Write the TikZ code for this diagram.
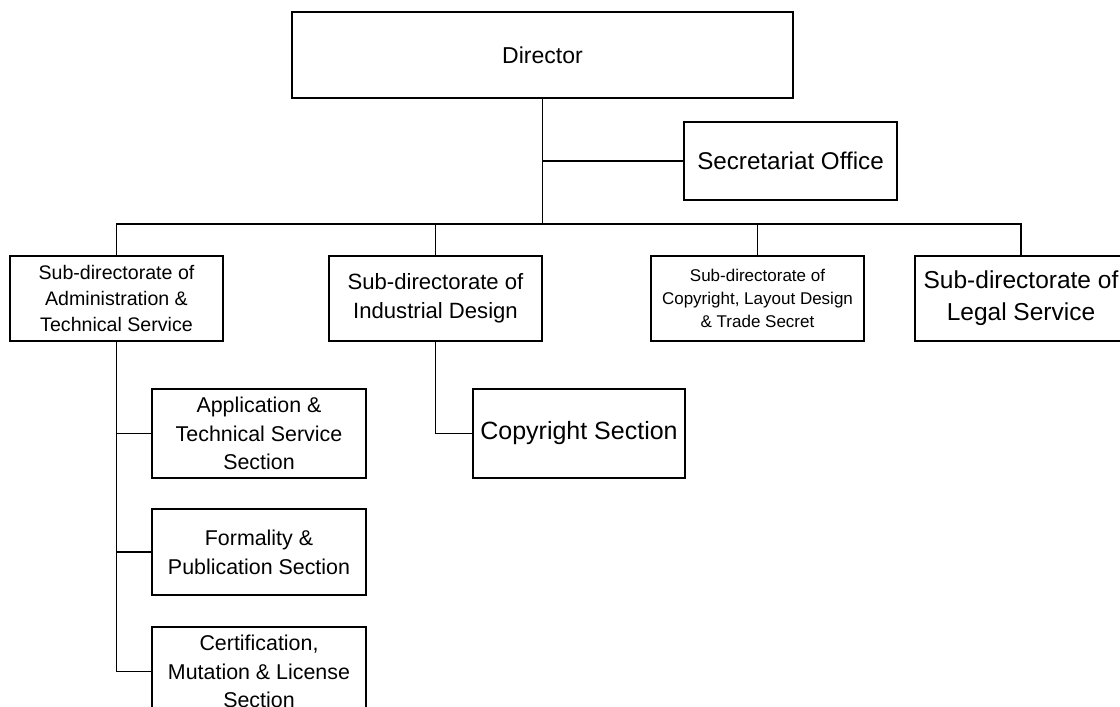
\documentclass[tikz,border=0pt]{standalone}
\usepackage{fontspec}
\setmainfont{Liberation Sans}
\begin{document}
\begin{tikzpicture}[x=1pt,y=-1pt,
  unit/.style={draw=black,line width=2pt,rectangle,inner sep=0pt,align=center,fill=white},
  subdir/.style={unit,minimum width=213pt,minimum height=85pt},
  section/.style={unit,minimum width=214pt,minimum height=89pt,font={\fontsize{21.4}{28.7}\selectfont}},
  link/.style={draw=black,line width=1.7pt}]
\useasboundingbox (0,0) rectangle (1120,707);
\clip (0,0) rectangle (1120,707);
\fill[white] (0,0) rectangle (1120,707);

% top level
\node[unit,minimum width=501pt,minimum height=86pt,font={\fontsize{23}{28}\selectfont}]
  (dir) at (542.5,55) {Director};
\node[unit,minimum width=213pt,minimum height=78pt,font={\fontsize{24.2}{29}\selectfont}]
  (sec) at (790.5,161) {Secretariat Office};

% sub-directorates
\node[subdir,font={\fontsize{19.6}{26}\selectfont}] (adm) at (116.5,298.5)
  {Sub-directorate of\\Administration \&\\Technical Service};
\node[subdir,font={\fontsize{22.1}{29}\selectfont}] (ind) at (435.5,298.5)
  {Sub-directorate of\\Industrial Design};
\node[subdir,font={\fontsize{17}{23}\selectfont}] (cld) at (757.5,298.5)
  {Sub-directorate of\\Copyright, Layout Design\\\& Trade Secret};
\node[subdir,font={\fontsize{24.5}{32}\selectfont}] (leg) at (1021,298.5)
  {Sub-directorate of\\Legal Service};

% sections
\node[section] (app) at (259,433.5) {Application \&\\Technical Service\\Section};
\node[section,minimum height=86pt] (frm) at (259,552) {Formality \&\\Publication Section};
\node[section] (crt) at (259,671.5) {Certification,\\Mutation \& License\\Section};
\node[unit,minimum width=212pt,minimum height=89pt,font={\fontsize{25}{30}\selectfont}]
  (cps) at (579,433.5) {Copyright Section};

% connectors
\coordinate (bus) at (542.5,224);
\draw[link] (dir.south) -- (bus);
\draw[link] (dir.south |- sec.west) -- (sec.west);
\draw[link] (adm.north) |- (bus) -| (leg.north);
\draw[link] (ind.north) -- (ind.north |- bus);
\draw[link] (cld.north) -- (cld.north |- bus);
\draw[link] (adm.south) |- (app.west);
\draw[link] (adm.south) |- (frm.west);
\draw[link] (adm.south) |- (crt.west);
\draw[link] (ind.south) |- (cps.west);
\end{tikzpicture}
\end{document}
